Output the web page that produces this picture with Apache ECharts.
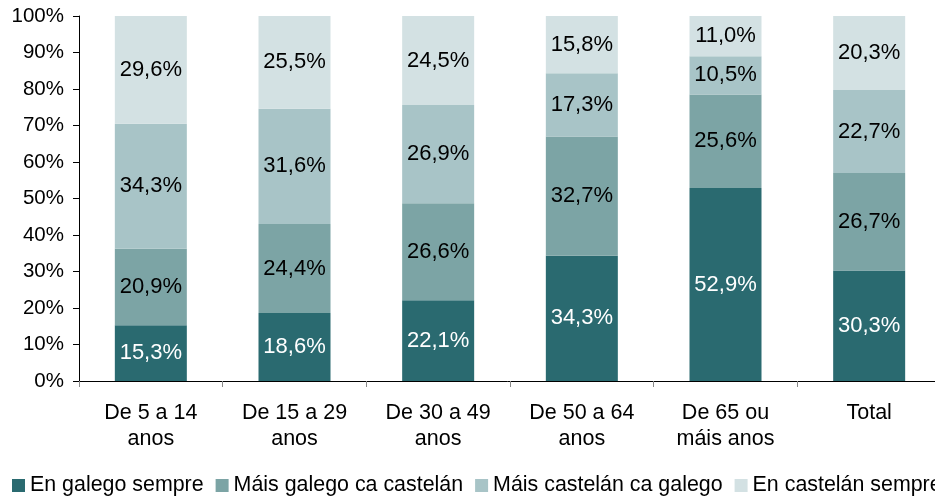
<!DOCTYPE html>
<html>
<head>
<meta charset="utf-8">
<script src="https://cdn.jsdelivr.net/npm/echarts@6/dist/echarts.min.js"></script>
<style>
  html, body { margin: 0; padding: 0; background: #fff; }
  #chart { width: 935px; height: 497px; }
</style>
</head>
<body>
<div id="chart"></div>
<script>
const categories = ['De 5 a 14\nanos', 'De 15 a 29\nanos', 'De 30 a 49\nanos', 'De 50 a 64\nanos', 'De 65 ou\nmáis anos', 'Total'];
const seriesNames = ['En galego sempre', 'Máis galego ca castelán', 'Máis castelán ca galego', 'En castelán sempre'];
const galegoSempre = [15.3, 18.6, 22.1, 34.3, 52.9, 30.3];
const maisGalego = [20.9, 24.4, 26.6, 32.7, 25.6, 26.7];
const maisCastelan = [34.3, 31.6, 26.9, 17.3, 10.5, 22.7];
const castelanSempre = [29.6, 25.5, 24.5, 15.8, 11.0, 20.3];

const chart = echarts.init(document.getElementById('chart'));
const font = 'Liberation Sans, Arial, sans-serif';
const colors = ['#2a6a70', '#7ca4a5', '#a8c4c7', '#d3e1e3'];
const labelColors = ['#ffffff', '#000000', '#000000', '#000000'];

const fmt = function (p) {
  return p.value.toFixed(1).replace('.', ',') + '%';
};

const seriesData = [galegoSempre, maisGalego, maisCastelan, castelanSempre];

const option = {
  animation: false,
  color: colors,
  grid: { left: 79, right: -6, top: 16, bottom: 116, outerBoundsMode: 'none' },
  legend: {
    left: 7,
    top: 470,
    width: 1400,
    itemWidth: 13,
    itemHeight: 13,
    itemGap: 12,
    icon: 'rect',
    textStyle: { fontFamily: font, fontSize: 21.4, color: '#000' },
    data: seriesNames
  },
  xAxis: {
    type: 'category',
    data: categories,
    axisLine: { lineStyle: { color: '#000', width: 1 } },
    axisTick: { show: true, length: 6, lineStyle: { color: '#888' } },
    axisLabel: { fontFamily: font, fontSize: 21.5, color: '#000', margin: 19, lineHeight: 26 }
  },
  yAxis: {
    type: 'value',
    min: 0,
    max: 100,
    interval: 10,
    axisLine: { show: true, lineStyle: { color: '#000', width: 1 } },
    axisTick: { show: true, length: 6, lineStyle: { color: '#000' } },
    splitLine: { show: false },
    axisLabel: { fontFamily: font, fontSize: 20.5, color: '#000', margin: 15, formatter: '{value}%' }
  },
  series: seriesData.map(function (d, i) {
    return {
      name: seriesNames[i],
      type: 'bar',
      stack: 'total',
      barWidth: 72,
      data: d,
      label: {
        show: true,
        position: 'inside',
        fontFamily: font,
        fontSize: 22,
        color: labelColors[i],
        formatter: fmt
      }
    };
  })
};

chart.setOption(option);
</script>
</body>
</html>
